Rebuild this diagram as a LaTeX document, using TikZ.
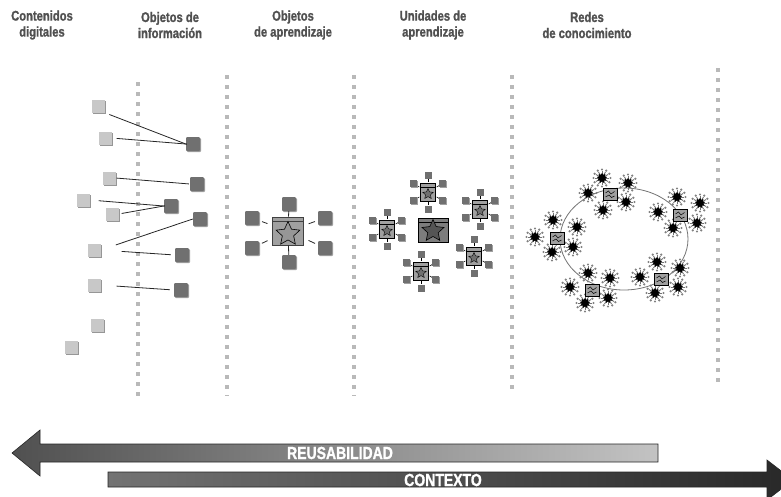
\documentclass[tikz,border=0pt]{standalone}
\usepackage{fontspec}
\setmainfont{Liberation Sans}
\newfontfamily\condfont[FakeStretch=0.8, FakeBold=1.2]{Liberation Sans Bold}
\usetikzlibrary{shapes.geometric,shadows}
\definecolor{hdrc}{RGB}{80,80,80}
\definecolor{dotc}{RGB}{185,185,185}
\definecolor{lsqc}{RGB}{200,200,200}
\definecolor{lsqs}{RGB}{150,150,150}
\definecolor{dsqc}{RGB}{112,112,112}
\definecolor{dsqs}{RGB}{160,160,160}
\definecolor{boxc}{RGB}{160,160,160}
\definecolor{starc}{RGB}{150,150,150}
\definecolor{ubig}{RGB}{125,125,125}
\definecolor{ubigstar}{RGB}{85,85,85}
\definecolor{reusL}{RGB}{80,80,80}
\definecolor{reusR}{RGB}{195,195,195}
\definecolor{ctxL}{RGB}{115,115,115}
\definecolor{ctxR}{RGB}{40,40,40}
\tikzset{
  dotline/.style={draw=dotc, line width=4pt, dash pattern=on 4pt off 6pt},
  lsq/.style={minimum size=13pt, inner sep=0pt, fill=lsqc,
    drop shadow={shadow xshift=1.5pt, shadow yshift=-1.5pt, fill=lsqs, opacity=1}},
  dsq/.style={minimum size=14pt, inner sep=0pt, fill=dsqc, rounded corners=1pt,
    drop shadow={shadow xshift=1pt, shadow yshift=-1pt, fill=dsqs, opacity=1}},
  ssq/.style={minimum size=7pt, inner sep=0pt, fill=dsqc,
    drop shadow={shadow xshift=0.8pt, shadow yshift=-0.8pt, fill=dsqs, opacity=1}},
  conn/.style={draw=black!85, line width=0.8pt},
  hdr/.style={font=\condfont\fontsize{14}{16}\selectfont, text=hdrc, align=center, inner sep=0pt},
  arrlbl/.style={font=\condfont\fontsize{17.5}{17.5}\selectfont, text=white, inner sep=0pt},
  oabox/.style={rectangle, minimum width=31pt, minimum height=28pt, inner sep=0pt, fill=boxc, draw=black!75, line width=0.8pt},
  oastar/.style={star, star points=5, star point ratio=2.1, minimum size=25pt, inner sep=0pt, fill=starc, draw=black, line width=0.6pt},
  ubox/.style={rectangle, minimum width=15pt, minimum height=18pt, inner sep=0pt, fill=boxc, draw=black, line width=0.7pt},
  ustar/.style={star, star points=5, star point ratio=2.1, minimum size=11pt, inner sep=0pt, fill=dsqc, draw=black, line width=0.4pt},
  hubbox/.style={rectangle, minimum width=14pt, minimum height=12pt, inner sep=0pt, fill=boxc, draw=black, line width=0.7pt},
  unidad/.pic={
    \foreach \a in {90,30,-30,-90,150,210}{
      \draw[line width=0.6pt] (\a:10) -- (\a:13);
      \node[ssq] at (\a:17) {};
    }
    \node[ubox] (-box) {};
    \draw[line width=0.4pt] (-7.5,-5) -- (7.5,-5);
    \node[ustar] (-star) at (0,2) {};
  },
  blob/.pic={
    \foreach \a in {0,30,...,330}{
      \draw[black!55, line width=0.9pt] (0,0) -- (\a:7);
      \fill[black!50] (\a:8.5) circle (1.2);
    }
    \node[star, star points=9, star point ratio=1.6, fill=black, minimum size=10.5pt, inner sep=0pt] (-c) {};
  },
  hub/.pic={
    \node[hubbox] (-box) {};
    \draw[line width=0.5pt] (-4.5,-1) -- (-1.5,-3) -- (1,0) -- (4.5,-2.5);
    \draw[line width=0.5pt] (-4.5,3) -- (-1,1) -- (1.5,3.5) -- (4.5,2);
  }
}
\begin{document}
\begin{tikzpicture}[x=1pt,y=-1pt]
\useasboundingbox (0,0) rectangle (781,496);

% headers
\node[hdr] (h1) at (42,25) {Contenidos\\digitales};
\node[hdr] (h2) at (170,25) {Objetos de\\información};
\node[hdr] (h3) at (293,25) {Objetos\\de aprendizaje};
\node[hdr] (h4) at (433,25) {Unidades de\\aprendizaje};
\node[hdr] (h5) at (587,25) {Redes\\de conocimiento};

% dotted separators
\draw[dotline] (138,82) -- (138,398);
\draw[dotline] (227,75) -- (227,396);
\draw[dotline] (354,75) -- (354,396);
\draw[dotline] (512,75) -- (512,390);
\draw[dotline] (718,68) -- (718,384);

% contenidos digitales
\node[lsq] (s1) at (98,106) {};
\node[lsq] (s2) at (105,138) {};
\node[lsq] (s3) at (109,178) {};
\node[lsq] (s4) at (83,200) {};
\node[lsq] (s5) at (112,214) {};
\node[lsq] (s6) at (94,250) {};
\node[lsq] (s7) at (94,285) {};
\node[lsq] (s8) at (97,325) {};
\node[lsq] (s9) at (71,347) {};

% objetos de informacion
\node[dsq] (d1) at (193,144) {};
\node[dsq] (d2) at (197,184) {};
\node[dsq] (d3) at (171,206) {};
\node[dsq] (d4) at (200,219) {};
\node[dsq] (d5) at (182,255) {};
\node[dsq] (d6) at (181,290) {};

\draw[conn, shorten <=5pt, shorten >=-1pt] (s1.south east) -- (d1.west);
\draw[conn, shorten <=5pt, shorten >=-1pt] (s2.east) -- (d1.west);
\draw[conn, shorten <=1pt, shorten >=1pt] (s3.east) -- (d2.west);
\draw[conn, shorten <=9pt, shorten >=-1pt] (s4.east) -- (d3.west);
\draw[conn, shorten <=3pt, shorten >=-1pt] (s5.east) -- (d3.west);
\draw[conn, shorten <=16pt, shorten >=0pt] (s6.east) -- (d4.west);
\draw[conn, shorten <=21pt, shorten >=4pt] (s6.east) -- (d5.west);
\draw[conn, shorten <=16pt, shorten >=4pt] (s7.east) -- (d6.west);

% objetos de aprendizaje
\node[dsq] (oa1) at (289,204) {};
\node[dsq] (oa2) at (289,262) {};
\node[dsq] (oa3) at (252,218) {};
\node[dsq] (oa4) at (252,248) {};
\node[dsq] (oa5) at (325,218) {};
\node[dsq] (oa6) at (325,248) {};
\node[oabox] (oa) at (288,231) {};
\draw[line width=0.6pt, black!75] (272.5,221) -- (303.5,221);
\node[oastar] (oas) at (288,234) {};
\draw[conn] (oa1) -- (oa);
\draw[conn] (oa2) -- (oa);
\draw[conn, shorten <=3pt, shorten >=5pt] (oa3) -- (oa);
\draw[conn, shorten <=3pt, shorten >=5pt] (oa4) -- (oa);
\draw[conn, shorten <=3pt, shorten >=5pt] (oa5) -- (oa);
\draw[conn, shorten <=3pt, shorten >=5pt] (oa6) -- (oa);

% unidades de aprendizaje
\node[rectangle, minimum width=30pt, minimum height=24pt, inner sep=0pt, fill=ubig, draw=black, line width=0.8pt,
  drop shadow={shadow xshift=1.2pt, shadow yshift=-1.2pt, fill=dsqs, opacity=1}] (ucen) at (433,230) {};
\draw[line width=0.6pt] (418,222) -- (448,222);
\node[star, star points=5, star point ratio=2.1, minimum size=23pt, inner sep=0pt, fill=ubigstar, draw=black, line width=0.6pt] (ucens) at (433,231) {};
\pic (u1) at (428,192) {unidad};
\pic (u2) at (480,209) {unidad};
\pic (u3) at (387,229) {unidad};
\pic (u4) at (474,256) {unidad};
\pic (u5) at (421,271) {unidad};

% redes de conocimiento
\draw[black!55, line width=0.8pt] (624,239) ellipse [x radius=64, y radius=51];
\foreach \p in {(602,178),(628,183),(588,193),(626,202),(603,210),
                (677,197),(700,203),(658,212),(697,223),(673,228),
                (553,220),(577,227),(535,237),(573,247),(552,252),
                (657,262),(680,268),(640,277),(678,287),(655,293),
                (588,273),(610,278),(570,287),(608,298),(585,303)}
  \pic at \p {blob};
\pic (n1) at (610,194) {hub};
\pic (n2) at (680,215) {hub};
\pic (n3) at (557,238) {hub};
\pic (n4) at (661,279) {hub};
\pic (n5) at (592,290) {hub};

% arrows
\shade[left color=reusL, right color=reusR, draw=black!85, line width=0.6pt]
  (658,444) -- (40,444) -- (40,430) -- (12,453) -- (40,476) -- (40,462) -- (658,462) -- cycle;
\node[arrlbl] (reus) at (340,453) {REUSABILIDAD};
\shade[left color=ctxL, right color=ctxR, draw=black!85, line width=0.6pt]
  (108,472) -- (767,472) -- (767,460) -- (793,480) -- (767,500) -- (767,487) -- (108,487) -- cycle;
\node[arrlbl] (ctx) at (443,480) {CONTEXTO};
\end{tikzpicture}
\end{document}
